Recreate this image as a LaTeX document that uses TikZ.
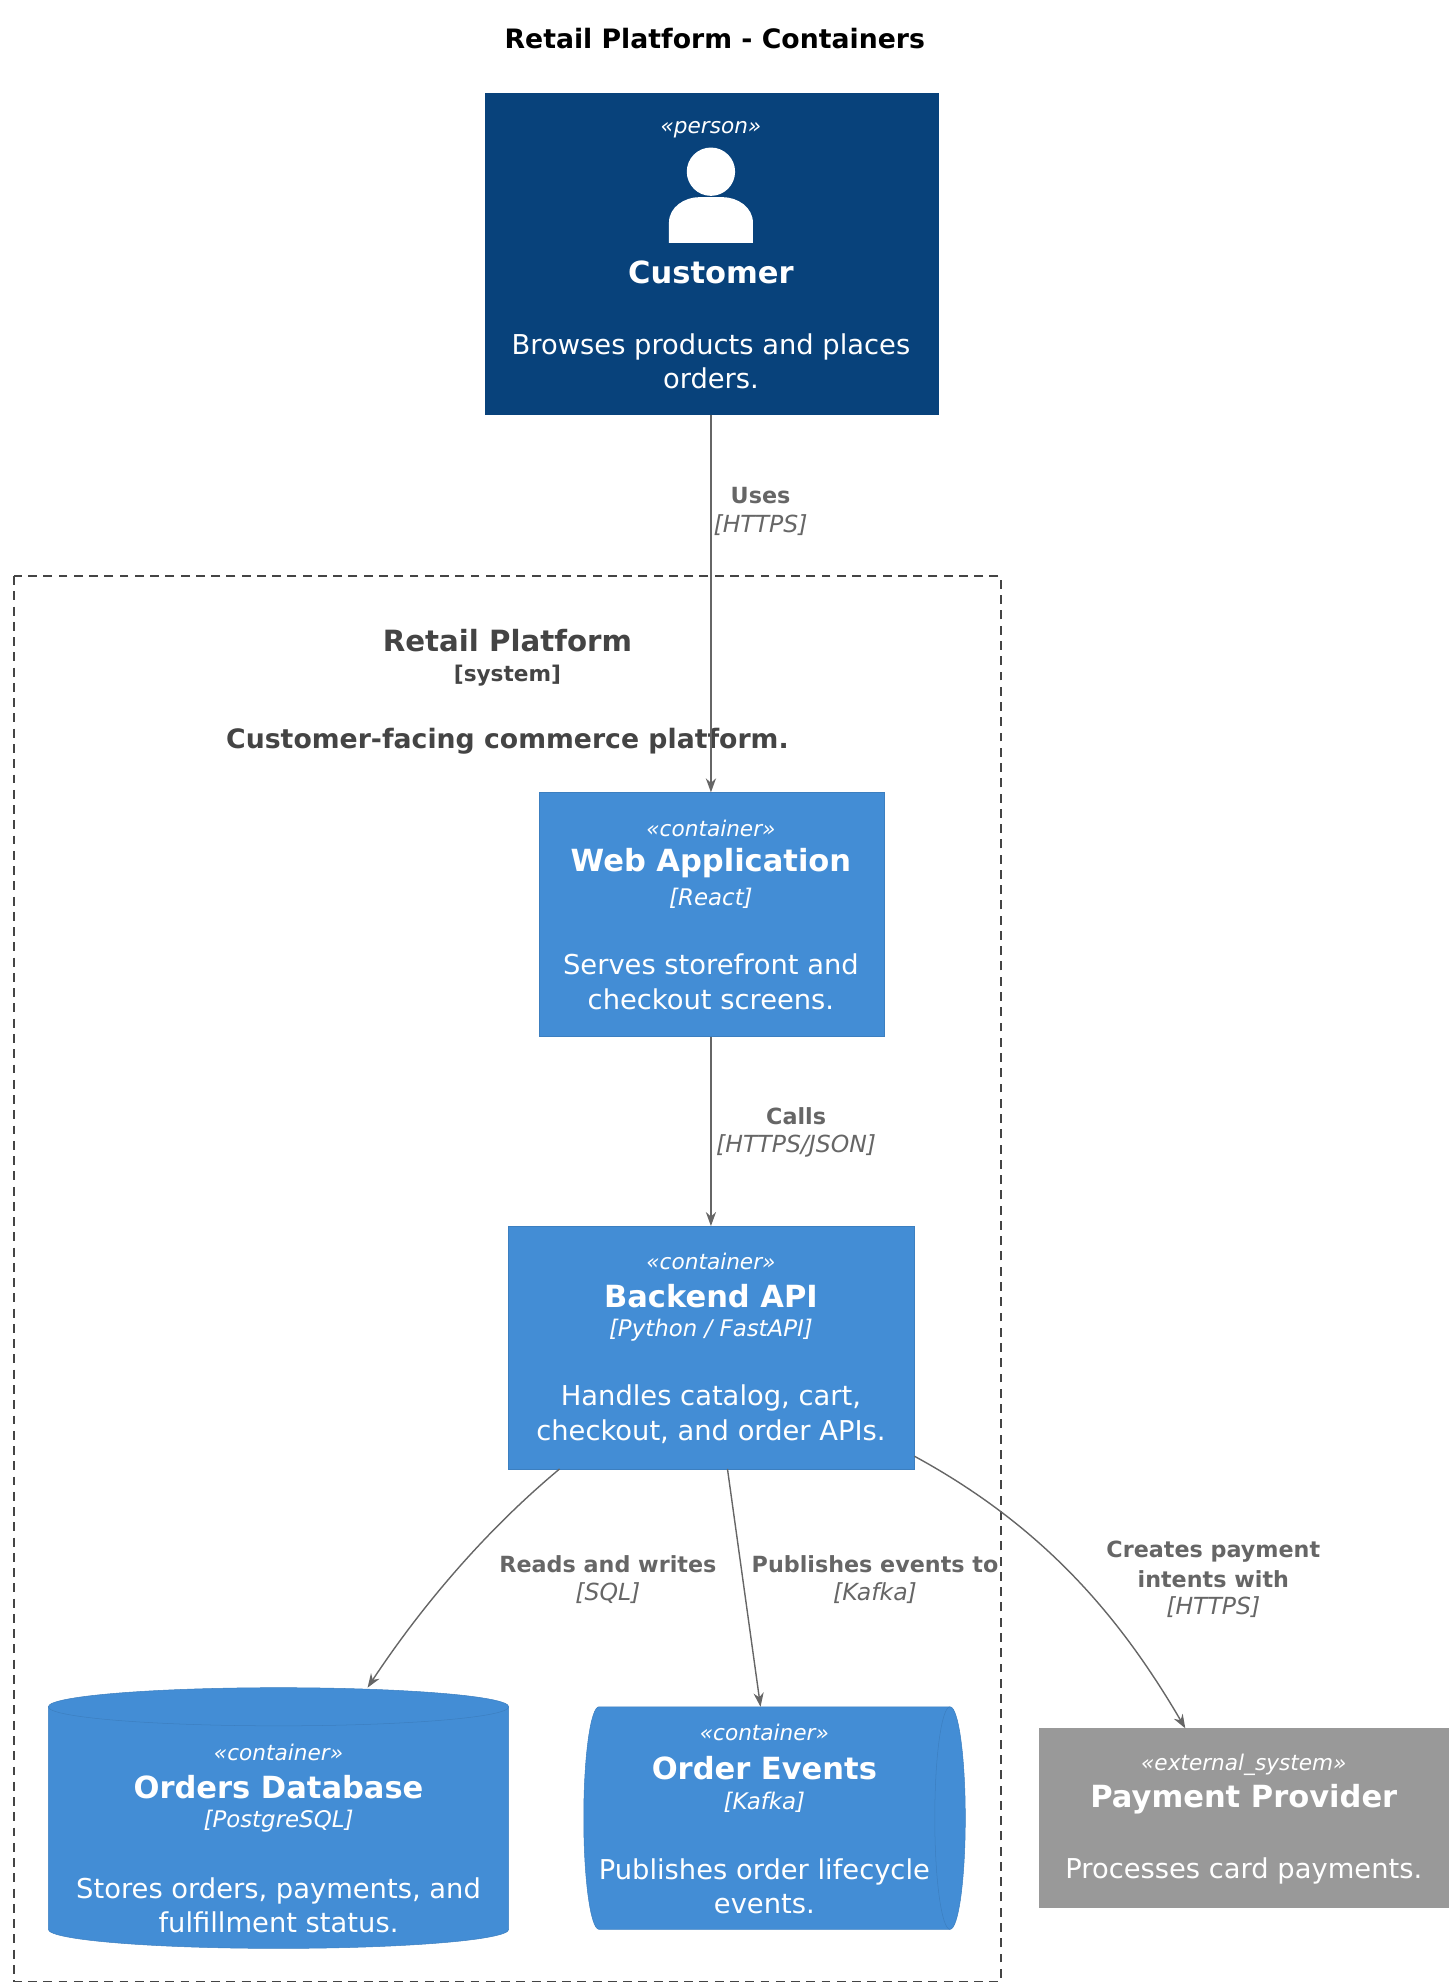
\documentclass[tikz,border=0pt]{standalone}
\usepackage{fontspec}
\setmainfont{DejaVu Sans}
\usetikzlibrary{arrows.meta,shapes.geometric}
\definecolor{person}{HTML}{08427B}
\definecolor{cont}{HTML}{438DD5}
\definecolor{contb}{HTML}{3C7FC0}
\definecolor{ext}{HTML}{999999}
\definecolor{ln}{HTML}{666666}
\definecolor{bd}{HTML}{444444}
\tikzset{
 wt/.style={text=white,inner sep=0,align=center},
 st/.style={wt,font=\fontsize{17}{19}\selectfont\itshape},
 sti/.style={wt,font=\fontsize{18}{20}\selectfont\itshape},
 ti/.style={wt,font=\fontsize{24}{28}\selectfont\bfseries},
 ds/.style={wt,font=\fontsize{21.5}{27}\selectfont},
 rel/.style={draw=ln,line width=1.1pt,-{Stealth[length=11pt,width=8pt]}},
 lb/.style={text=ln,inner sep=0,align=center,font=\fontsize{17.5}{23}\selectfont\bfseries},
 lt/.style={text=ln,inner sep=0,font=\fontsize{18.5}{20}\selectfont\itshape},
}
\begin{document}
\begin{tikzpicture}[x=1pt,y=-1pt]
\useasboundingbox (0,0) rectangle (1140,1560);
\node[inner sep=0,font=\fontsize{21}{24}\selectfont\bfseries] (title) at (562,30) {Retail Platform - Containers};
% customer
\path[fill=person] (381,73) rectangle (738,326);
\coordinate (cusT) at (559,326);
\node[st] at (559,102) {«person»};
\fill[white] (559,135) circle (19);
\fill[white] (526,191) -- (526,175) .. controls (526,163) and (538,155) .. (550,155) -- (568,155) .. controls (580,155) and (592,163) .. (592,175) -- (592,191) -- cycle;
\node[ti] (cus) at (559,214) {Customer};
\node[ds] at (559,284) {Browses products and places\\orders.};
% boundary
\draw[bd,dashed,dash pattern=on 7pt off 5pt,line width=1pt] (11,453) rectangle (787,1558);
\node[inner sep=0,text=bd,font=\fontsize{23}{26}\selectfont\bfseries] (bn) at (399,504) {Retail Platform};
\node[inner sep=0,text=bd,font=\fontsize{17}{19}\selectfont\bfseries] at (399,531) {[system]};
\node[inner sep=0,text=bd,font=\fontsize{21}{24}\selectfont\bfseries] at (399,583) {Customer-facing commerce platform.};
% web
\draw[fill=cont,draw=contb] (424,623) rectangle (695,815);
\coordinate (webT) at (559,623); \coordinate (webB) at (559,815);
\node[st] at (559,651) {«container»};
\node[ti] (web) at (559,679) {Web Application};
\node[sti] at (559,706) {[React]};
\node[ds] at (559,772) {Serves storefront and\\checkout screens.};
% backend
\draw[fill=cont,draw=contb] (400,964) rectangle (719,1155);
\coordinate (beT) at (559,964);
\node[st] at (559,992) {«container»};
\node[ti] (be) at (559,1019) {Backend API};
\node[sti] at (559,1046) {[Python / FastAPI]};
\node[ds] at (559,1112) {Handles catalog, cart,\\checkout, and order APIs.};
% db
\draw[fill=cont,draw=contb] (38,1342) -- (38,1517) arc[start angle=180,end angle=0,x radius=181,y radius=15] -- (400,1342) arc[start angle=0,end angle=-180,x radius=181,y radius=15] -- cycle;
\draw[contb] (38,1342) arc[start angle=180,end angle=0,x radius=181,y radius=15];
\node[st] at (219,1378) {«container»};
\node[ti] (db) at (219,1405) {Orders Database};
\node[sti] at (219,1432) {[PostgreSQL]};
\node[ds] at (219,1498) {Stores orders, payments, and\\fulfillment status.};
% queue
\draw[fill=cont,draw=contb] (747,1342) arc[start angle=-90,end angle=90,x radius=12,y radius=87.5] -- (471,1517) arc[start angle=90,end angle=270,x radius=12,y radius=87.5] -- cycle;
\draw[contb] (747,1342) arc[start angle=-90,end angle=-270,x radius=12,y radius=87.5];
\node[st] at (601,1362) {«container»};
\node[ti] (ev) at (601,1390) {Order Events};
\node[sti] at (601,1417) {[Kafka]};
\node[ds] at (601,1483) {Publishes order lifecycle\\events.};
% payment
\path[fill=ext] (817,1359) rectangle (1139,1500);
\node[st] at (978,1388) {«external\_system»};
\node[ti] (pay) at (978,1415) {Payment Provider};
\node[ds] at (978,1471) {Processes card payments.};
% arrows
\draw[rel] (cusT) -- (webT);
\node[lb] at (598,390) {Uses}; \node[lt] at (598,413) {[HTTPS]};
\draw[rel] (webB) -- (beT);
\node[lb] at (626,878) {Calls}; \node[lt] at (626,901) {[HTTPS/JSON]};
\coordinate (b1) at (440,1155); \coordinate (b2) at (572,1155); \coordinate (b3) at (719,1145);
\coordinate (dbT) at (289,1327); \coordinate (evT) at (598,1342); \coordinate (payT) at (932,1359);
\draw[rel] (b1) .. controls (380,1205) and (330,1265) .. (dbT);
\node[lb] at (478,1230) {Reads and writes}; \node[lt] at (478,1253) {[SQL]};
\draw[rel] (b2) -- (evT);
\node[lb] at (688,1230) {Publishes events to}; \node[lt] at (688,1253) {[Kafka]};
\draw[rel] (b3) .. controls (820,1200) and (880,1270) .. (payT);
\node[lb] at (954,1230) {Creates payment\\intents with}; \node[lt] at (954,1264) {[HTTPS]};
\end{tikzpicture}
\end{document}
